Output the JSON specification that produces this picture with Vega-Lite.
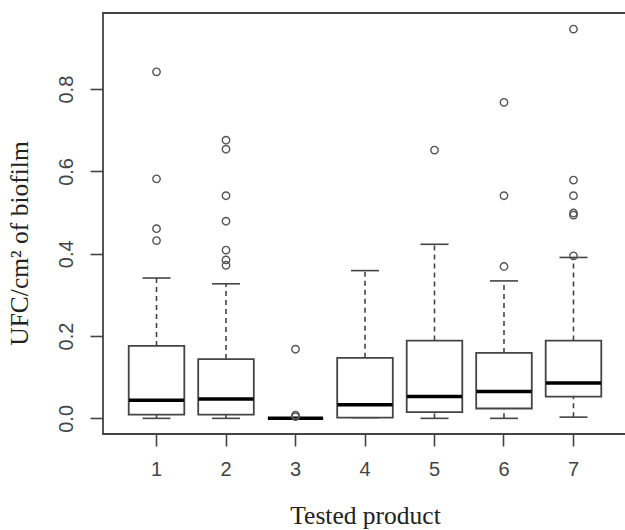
{
  "$schema": "https://vega.github.io/schema/vega-lite/v6.json",
  "autosize": {"type": "none"},
  "padding": {"left": 103, "top": 13, "right": 0, "bottom": 96},
  "width": 524,
  "height": 421,
  "background": "white",
  "config": {
    "view": {"stroke": "#444444", "strokeWidth": 1.8},
    "axis": {"grid": false, "domain": false}
  },
  "datasets": {
    "boxes": [
      {"product": "1", "lo": 0.0, "q1": 0.009, "median": 0.044, "q3": 0.176, "hi": 0.341},
      {"product": "2", "lo": 0.0, "q1": 0.009, "median": 0.047, "q3": 0.144, "hi": 0.327},
      {"product": "3", "lo": 0.0, "q1": 0.0, "median": 0.0, "q3": 0.0, "hi": 0.0},
      {"product": "4", "lo": 0.002, "q1": 0.002, "median": 0.033, "q3": 0.147, "hi": 0.359},
      {"product": "5", "lo": 0.0, "q1": 0.015, "median": 0.053, "q3": 0.189, "hi": 0.423},
      {"product": "6", "lo": 0.0, "q1": 0.024, "median": 0.065, "q3": 0.159, "hi": 0.334},
      {"product": "7", "lo": 0.003, "q1": 0.053, "median": 0.086, "q3": 0.189, "hi": 0.391}
    ],
    "outliers": [
      {"product": "1", "value": 0.842},
      {"product": "1", "value": 0.582},
      {"product": "1", "value": 0.461},
      {"product": "1", "value": 0.432},
      {"product": "2", "value": 0.676},
      {"product": "2", "value": 0.654},
      {"product": "2", "value": 0.541},
      {"product": "2", "value": 0.479},
      {"product": "2", "value": 0.409},
      {"product": "2", "value": 0.385},
      {"product": "2", "value": 0.372},
      {"product": "3", "value": 0.168},
      {"product": "3", "value": 0.008},
      {"product": "3", "value": 0.004},
      {"product": "5", "value": 0.652},
      {"product": "6", "value": 0.768},
      {"product": "6", "value": 0.541},
      {"product": "6", "value": 0.369},
      {"product": "7", "value": 0.946},
      {"product": "7", "value": 0.579},
      {"product": "7", "value": 0.541},
      {"product": "7", "value": 0.499},
      {"product": "7", "value": 0.494},
      {"product": "7", "value": 0.395}
    ]
  },
  "encoding": {
    "x": {
      "field": "product",
      "type": "ordinal",
      "scale": {"paddingInner": 0.2, "paddingOuter": 0.37},
      "axis": {
        "title": "Tested product",
        "labelAngle": 0,
        "labelFont": "Liberation Sans",
        "labelFontSize": 20,
        "labelColor": "#444444",
        "labelPadding": 13,
        "tickSize": 12,
        "tickColor": "#444444",
        "tickWidth": 1.6,
        "titleFont": "Liberation Serif",
        "titleFontSize": 25.5,
        "titleFontWeight": "normal",
        "titleColor": "#222222",
        "titlePadding": 24
      }
    }
  },
  "layer": [
    {
      "data": {"name": "boxes"},
      "mark": {"type": "rule", "color": "#444444", "strokeWidth": 1.6, "strokeDash": [5, 4]},
      "encoding": {
        "y": {
          "field": "lo",
          "type": "quantitative",
          "scale": {"domain": [-0.038, 0.985], "nice": false, "zero": false},
          "axis": {
            "title": "UFC/cm² of biofilm",
            "values": [0, 0.2, 0.4, 0.6, 0.8],
            "format": ".1f",
            "labelAngle": -90,
            "labelAlign": "center",
            "labelBaseline": "bottom",
            "labelFont": "Liberation Sans",
            "labelFontSize": 20,
            "labelColor": "#444444",
            "labelPadding": 14,
            "tickSize": 13,
            "tickColor": "#444444",
            "tickWidth": 1.6,
            "titleFont": "Liberation Serif",
            "titleFontSize": 25.5,
            "titleFontWeight": "normal",
            "titleColor": "#222222",
            "titlePadding": 24,
            "titleY": 230
          }
        },
        "y2": {"field": "q1"}
      }
    },
    {
      "data": {"name": "boxes"},
      "mark": {"type": "rule", "color": "#444444", "strokeWidth": 1.6, "strokeDash": [5, 4]},
      "encoding": {
        "y": {"field": "q3", "type": "quantitative"},
        "y2": {"field": "hi"}
      }
    },
    {
      "data": {"name": "boxes"},
      "mark": {"type": "tick", "color": "#444444", "size": 28, "thickness": 1.6, "opacity": 1},
      "encoding": {"y": {"field": "lo", "type": "quantitative"}}
    },
    {
      "data": {"name": "boxes"},
      "mark": {"type": "tick", "color": "#444444", "size": 28, "thickness": 1.6, "opacity": 1},
      "encoding": {"y": {"field": "hi", "type": "quantitative"}}
    },
    {
      "data": {"name": "boxes"},
      "mark": {"type": "bar", "fill": "white", "stroke": "#444444", "strokeWidth": 1.8},
      "encoding": {
        "y": {"field": "q1", "type": "quantitative"},
        "y2": {"field": "q3"}
      }
    },
    {
      "data": {"name": "boxes"},
      "mark": {"type": "tick", "color": "#000000", "size": 55, "thickness": 3.5, "opacity": 1},
      "encoding": {"y": {"field": "median", "type": "quantitative"}}
    },
    {
      "data": {"name": "outliers"},
      "mark": {"type": "point", "shape": "circle", "filled": false, "size": 55, "stroke": "#555555", "strokeWidth": 1.4, "opacity": 1},
      "encoding": {"y": {"field": "value", "type": "quantitative"}}
    }
  ]
}
